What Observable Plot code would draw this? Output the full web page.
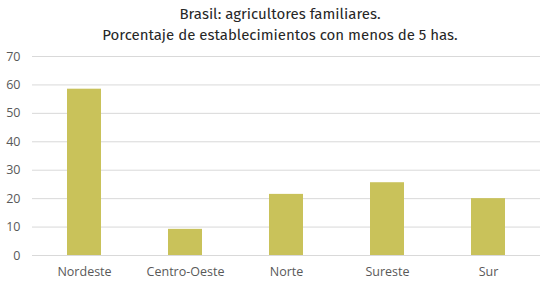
<!DOCTYPE html>
<html><head><meta charset="utf-8">
<script src="https://cdn.jsdelivr.net/npm/d3@7"></script>
<script src="https://cdn.jsdelivr.net/npm/@observablehq/plot@0.6"></script>
<style>
body{margin:0;background:#fff;}
#title{width:548px;height:46px;box-sizing:border-box;padding-top:4px;padding-left:12px;text-align:center;font-family:"Fira Sans","Noto Sans",sans-serif;font-size:15px;line-height:21px;color:#262626;font-weight:400;}
</style>
</head><body>
<div id="title">Brasil: agricultores familiares.<br>Porcentaje de establecimientos con menos de 5 has.</div>
<div id="chart"></div>
<script>
const regions = ["Nordeste","Centro-Oeste","Norte","Sureste","Sur"];
const values = [58.5, 9.2, 21.5, 25.6, 20.0];
const yTicks = [0,10,20,30,40,50,60,70];
const data = regions.map((r,i)=>({region:r, value:values[i]}));
const chart = Plot.plot({
  width:548, height:241,
  marginTop:10, marginBottom:32, marginLeft:32, marginRight:8,
  style:{fontFamily:"Open Sans, sans-serif", fontSize:"12.5px", color:"#595959", background:"#fff"},
  x:{domain:regions, paddingInner:0.66, paddingOuter:0.33, label:null, tickSize:0, tickPadding:12},
  y:{domain:[0,70], ticks:yTicks, label:null, tickSize:0, tickPadding:12},
  marks:[
    Plot.gridY(yTicks,{stroke:"#d9d9d9", strokeOpacity:1, strokeWidth:1}),
    Plot.barY(data,{x:"region", y:"value", fill:"#c9c25a"})
  ]
});
document.getElementById("chart").appendChild(chart);
</script>
</body></html>
